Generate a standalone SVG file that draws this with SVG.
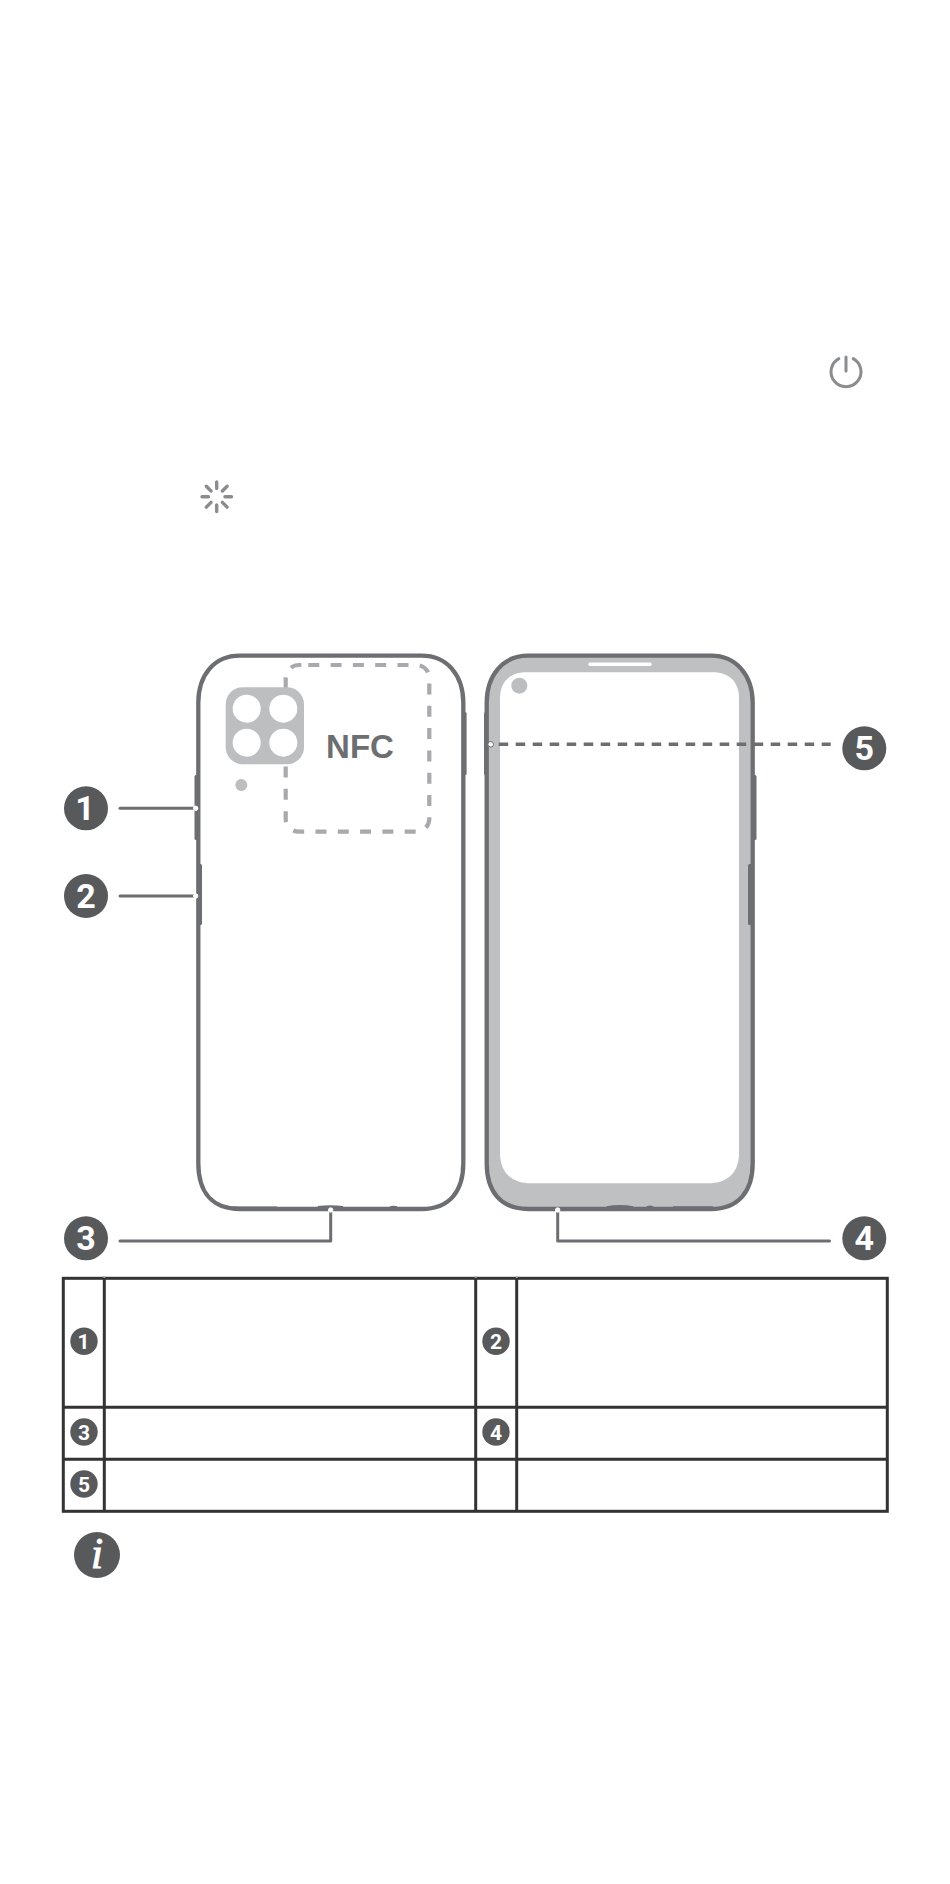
<svg xmlns="http://www.w3.org/2000/svg" width="950" height="1884" viewBox="0 0 950 1884">
<style>
.badge{fill:#58595b}
.num{fill:#fff;font-family:Roboto,"Liberation Sans",Arial,sans-serif;font-weight:700;text-anchor:middle}
.big{font-size:34px}
.small{font-size:21px}
.btn{fill:#6d6e71}
.lead{fill:none;stroke:#6d6e71;stroke-width:3;stroke-linecap:round;stroke-linejoin:round}
.end{fill:#fff;stroke:#fff;stroke-width:1}
.grid{fill:none;stroke:#333334;stroke-width:3}
.icon{fill:none;stroke:#8a8c8e;stroke-linecap:round}
.lens{fill:#fff}
</style>
<rect width="950" height="1884" fill="#fff"/>
<g id="power-icon" class="icon" stroke-width="3">
<path d="M838.800 358.600A15 15 0 1 0 853.200 358.600"/>
<path d="M846 357V371"/>
</g>
<g id="loading-icon" class="icon" stroke-width="3.400">
<path d="M216.700 482V488.500M216.700 505V511.500M202 496.700H208.500M225 496.700H231.500M206.300 486.300L211 491M222.400 502.400L227.100 507.100M227.100 486.300L222.400 491M211 502.400L206.300 507.100"/>
</g>
<g id="phone-back">
<rect class="btn" x="194.500" y="775" width="5" height="65" rx="1.500"/>
<rect class="btn" x="463" y="712" width="3.600" height="63" rx="1.500"/>
<path id="back-body" d="M240 655.700H421.600C447 655.700 463.300 675 463.300 703V1163C463.300 1192 449 1209 421.600 1209H240C212 1209 198.300 1192 198.300 1163V703C198.300 675 214 655.700 240 655.700Z" fill="#fff" stroke="#6d6e71" stroke-width="4.300"/>
<rect class="btn" x="198" y="864" width="4" height="61" rx="1.500"/>
<path d="M233 1207.800H277M318 1207.400Q330 1205.500 343 1207.400M390 1207.600Q393.500 1206.500 397 1207.600" fill="none" stroke="#6d6e71" stroke-width="2.600"/>
<path id="nfc-area" d="M308.300 665H416.300A13 13 0 0 1 429.300 678V818.700A13 13 0 0 1 416.300 831.700H298.700A13 13 0 0 1 285.700 818.700V678A13 13 0 0 1 298.700 665H308.300" fill="none" stroke="#a7a9ac" stroke-width="4.200" stroke-dasharray="11 11.300"/>
<g id="camera-module">
<rect x="225.700" y="687.300" width="78.300" height="77" rx="17" fill="#bcbec0"/>
<circle class="lens" cx="246.700" cy="708.700" r="14"/>
<circle class="lens" cx="283.300" cy="708.700" r="14"/>
<circle class="lens" cx="246.700" cy="742.700" r="14"/>
<circle class="lens" cx="283.300" cy="742.700" r="14"/>
</g>
<circle cx="241.300" cy="785" r="6" fill="#bcbec0"/>
<text x="360" y="758" text-anchor="middle" font-family="'Liberation Sans',Arial,sans-serif" font-weight="700" font-size="33" fill="#6d6e71">NFC</text>
</g>
<g id="phone-front">
<rect class="btn" x="484" y="712" width="5" height="63" rx="1.500"/>
<rect class="btn" x="751.500" y="775" width="5" height="65" rx="1.500"/>
<path id="front-body" d="M528 655.700H711C736 655.700 752.700 675 752.700 703V1163C752.700 1192 738 1209 711 1209H528C501 1209 486.700 1192 486.700 1163V703C486.700 675 503 655.700 528 655.700Z" fill="#bfc0c2" stroke="#6d6e71" stroke-width="4.300"/>
<rect class="btn" x="748" y="864" width="4" height="61" rx="1.500"/>
<path d="M606.700 1207.500Q620 1205 633 1207.500M647 1207.500Q650 1206 653 1207.500M673 1207.600H713" fill="none" stroke="#6d6e71" stroke-width="2.600"/>
<path id="screen" d="M526 672.300H713C729 672.300 739 682 739 698V1153C739 1173 727 1183.300 708 1183.300H531C512 1183.300 500 1173 500 1153V698C500 682 510 672.300 526 672.300Z" fill="#fff"/>
<rect x="588.300" y="662.600" width="63.400" height="3.400" rx="1.700" fill="#fff"/>
<circle cx="519.300" cy="685.700" r="8" fill="#bcbec0"/>
</g>
<g id="connectors">
<path class="lead" d="M120 808.300H195.700"/>
<path class="lead" d="M120 896H195.700"/>
<path class="lead" d="M120 1241H330.700V1210"/>
<path class="lead" d="M829.500 1241H557.700V1210"/>
<path d="M490.700 744.300H830.700" fill="none" stroke="#6d6e71" stroke-width="3.400" stroke-dasharray="9.500 7.500" stroke-dashoffset="-8"/>
<circle class="end" cx="195.700" cy="808.300" r="2.200"/>
<circle class="end" cx="195.700" cy="896" r="2.200"/>
<circle class="end" cx="330.700" cy="1210" r="2.200"/>
<circle class="end" cx="557.700" cy="1210" r="2.200"/>
<circle cx="490.700" cy="744.300" r="2.800" fill="#fff" stroke="#6d6e71" stroke-width="1"/>
</g>
<g id="callout-1"><circle class="badge" cx="86" cy="808.300" r="22"/><text class="num big" x="85" y="820">1</text></g>
<g id="callout-2"><circle class="badge" cx="86" cy="896" r="22"/><text class="num big" x="86" y="908">2</text></g>
<g id="callout-3"><circle class="badge" cx="86" cy="1238.300" r="22"/><text class="num big" x="86" y="1250">3</text></g>
<g id="callout-4"><circle class="badge" cx="864.300" cy="1238.300" r="22"/><text class="num big" x="864.300" y="1250">4</text></g>
<g id="callout-5"><circle class="badge" cx="864.300" cy="748.300" r="22"/><text class="num big" x="864.300" y="760">5</text></g>
<g id="table">
<rect class="grid" x="63.300" y="1278.300" width="824" height="233"/>
<path class="grid" d="M63.300 1407.300H887.300M63.300 1459.300H887.300M104.300 1278.300V1511.300M475.700 1278.300V1511.300M516.700 1278.300V1511.300"/>
<path d="M104.300 1276V1278M475.700 1276V1278M516.700 1276V1278" stroke="#a7a9ac" stroke-width="2"/>
</g>
<g id="table-callout-1"><circle class="badge" cx="84" cy="1341.300" r="13.700"/><text class="num small" x="83.500" y="1348.800">1</text></g>
<g id="table-callout-2"><circle class="badge" cx="496" cy="1341.300" r="13.700"/><text class="num small" x="496" y="1348.800">2</text></g>
<g id="table-callout-3"><circle class="badge" cx="84" cy="1432" r="13.700"/><text class="num small" x="84" y="1439.500">3</text></g>
<g id="table-callout-4"><circle class="badge" cx="496" cy="1432" r="13.700"/><text class="num small" x="496" y="1439.500">4</text></g>
<g id="table-callout-5"><circle class="badge" cx="84" cy="1484" r="13.700"/><text class="num small" x="84" y="1491.500">5</text></g>
<g id="info-icon"><circle class="badge" cx="97" cy="1555" r="23"/><text x="97" y="1568" text-anchor="middle" font-family="'Liberation Serif','Times New Roman',serif" font-style="italic" font-size="45" fill="#fff" stroke="#fff" stroke-width="0.800">i</text></g>
</svg>
